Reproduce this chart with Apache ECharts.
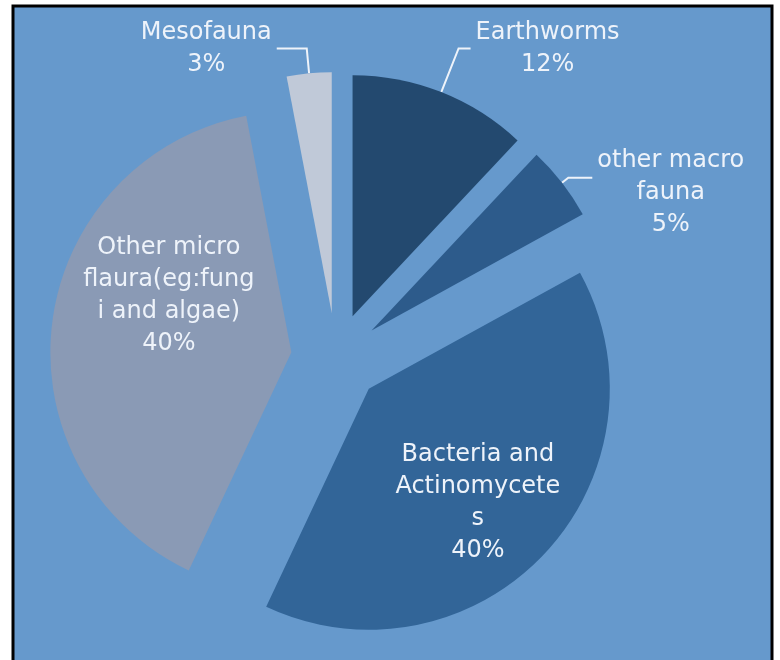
<!DOCTYPE html>
<html>
<head>
<meta charset="utf-8">
<script src="https://cdn.jsdelivr.net/npm/echarts@6/dist/echarts.min.js"></script>
<style>
  html, body { margin: 0; padding: 0; background: #fff; }
  #chart { width: 780px; height: 660px; }
</style>
</head>
<body>
<div id="chart"></div>
<script>
// slice names (line breaks as in the original) and their shares in %
const names = [
  'Earthworms',
  'other macro\nfauna',
  'Bacteria and\nActinomycete\ns',
  'Other micro\nflaura(eg:fung\ni and algae)',
  'Mesofauna',
];
const shares = [12, 5, 40, 40, 3];

const sliceColors = ['#23496f', '#2d5b8b', '#326598', '#8a9ab5', '#c0c9d8'];
const textColor = '#eef3fa';

// per-slice label placement: outside with leader line, or inside
const labelSetup = [
  { position: 'outside', len: 47, len2: 12, padding: 0 },
  { position: 'outside', len: 8, len2: 24, padding: [30, 0, 0, 0] },
  { position: 'inside', padding: [58, 0, 0, 38] },
  { position: 'inside', padding: [0, 0, 82, 0] },
  { position: 'outside', len: 25, len2: 30, padding: 0 },
];

const myChart = echarts.init(document.getElementById('chart'));

const fmt = (p) =>
  p.name.split('\n').map((s) => `{c|${s}}`).join('\n') + `\n{c|${p.percent}%}`;

const seriesData = names.map((name, i) => {
  const cfg = labelSetup[i];
  return {
    name,
    value: shares[i],
    selected: true,
    itemStyle: { color: sliceColors[i] },
    label: { position: cfg.position, padding: cfg.padding },
    labelLine: cfg.position === 'outside'
      ? { show: true, length: cfg.len, length2: cfg.len2 }
      : { show: false },
  };
});

const option = {
  animation: false,
  graphic: [
    {
      type: 'rect',
      silent: true,
      z: -10,
      shape: { x: 13, y: 6, width: 759, height: 700 },
      style: { fill: '#6699cc', stroke: '#000', lineWidth: 3 },
    },
  ],
  series: [
    {
      type: 'pie',
      center: [336, 358],
      radius: 241,
      startAngle: 90,
      clockwise: true,
      selectedMode: 'multiple',
      selectedOffset: 45,
      avoidLabelOverlap: false,
      emphasis: { disabled: true },
      select: { itemStyle: { borderWidth: 0 } },
      label: {
        color: textColor,
        fontFamily: 'DejaVu Sans',
        fontSize: 24,
        lineHeight: 32,
        formatter: fmt,
        rich: {
          c: {
            align: 'center',
            color: textColor,
            fontFamily: 'DejaVu Sans',
            fontSize: 24,
            lineHeight: 32,
          },
        },
      },
      labelLine: {
        lineStyle: { color: textColor, width: 2 },
      },
      data: seriesData,
    },
  ],
};

myChart.setOption(option);
window.addEventListener('resize', () => {
  myChart.resize();
});
</script>
</body>
</html>
